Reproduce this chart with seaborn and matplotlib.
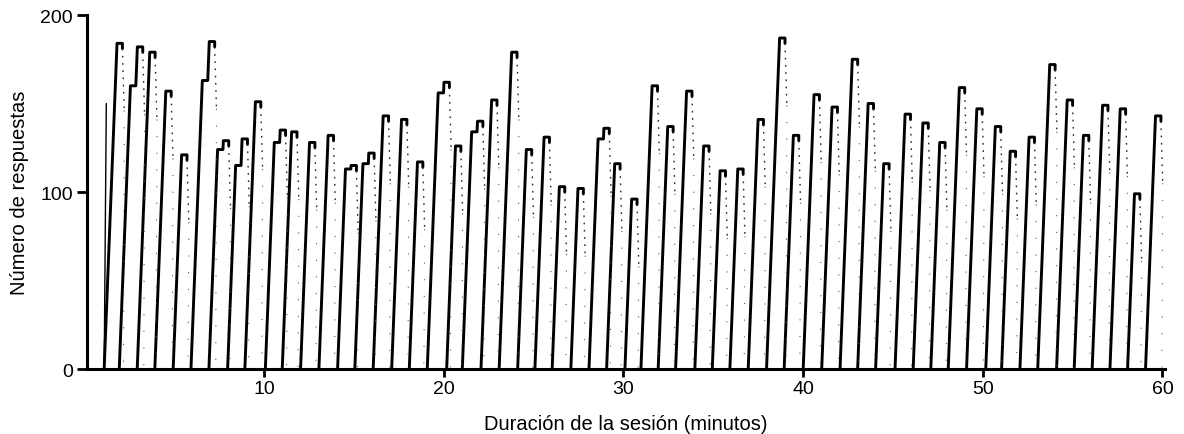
import numpy as np
import pandas as pd
import matplotlib
matplotlib.use('Agg')
import matplotlib.pyplot as plt
import seaborn as sns

# start of each run (minutes) and count reached before the pen resets
ramp_start = [1.11, 1.95, 2.95, 3.93, 4.95, 5.94, 6.94, 7.98, 8.94, 10.08,
              11.02, 12.04, 13.06, 14.10, 15.06, 16.08, 17.11, 18.09, 19.09, 20.17,
              21.04, 22.08, 23.09, 24.12, 25.08, 26.04, 27.08, 28.09, 29.07, 30.09,
              30.98, 31.94, 32.91, 33.98, 34.95, 35.93, 36.95, 37.97, 38.95, 40.01,
              41.04, 42.06, 43.04, 44.04, 45.12, 46.13, 47.11, 48.08, 49.10, 50.17,
              51.05, 52.07, 53.06, 54.11, 55.09, 56.09, 57.08, 58.06, 59.06]
peak = [184, 182, 179, 157, 121, 185, 129, 130, 151, 135,
        134, 128, 132, 115, 122, 143, 141, 117, 162, 126,
        140, 152, 179, 124, 131, 103, 102, 136, 116, 96,
        160, 137, 157, 126, 112, 113, 141, 187, 132, 155,
        148, 175, 150, 116, 144, 139, 128, 159, 147, 137,
        123, 131, 172, 152, 132, 149, 147, 99, 143]
# short pause part way up the run (0 = none)
step = [0, 160, 0, 0, 0, 163, 124, 115, 0, 128,
        0, 0, 0, 113, 116, 0, 0, 0, 156, 0,
        134, 0, 0, 0, 0, 0, 0, 130, 0, 0,
        0, 0, 0, 0, 0, 0, 0, 0, 0, 0,
        0, 0, 0, 0, 0, 0, 0, 0, 0, 0,
        0, 0, 0, 0, 0, 0, 0, 0, 0]
first_spike = 150

x_ticks = [10, 20, 30, 40, 50, 60]
y_ticks = [0, 100, 200]

rate = 257.0   # responses per minute while running
hold = 0.3

rows = []
resets = []
for i, (t0, p, s) in enumerate(zip(ramp_start, peak, step)):
    pts = [(t0, 0)]
    t = t0
    if s:
        t += s / rate
        pts.append((t, s))
        t += 0.3
        pts.append((t, s))
        t += (p - s) / rate
    else:
        t += p / rate
    pts.append((t, p))
    t += hold
    pts.append((t, p))
    pts.append((t, p - 3))
    for k, (x, y) in enumerate(pts):
        rows.append({'t': x, 'n': y, 'run': i, 'order': k})
    resets.append((t, p - 3))

df = pd.DataFrame(rows)

sns.set_style('ticks')
plt.rcParams['font.family'] = ['Liberation Sans', 'DejaVu Sans']

fig = plt.figure(figsize=(11.84, 4.35), dpi=100)
ax = fig.add_axes([0.0737, 0.1494, 0.9102, 0.8138])

sns.lineplot(data=df, x='t', y='n', units='run', estimator=None, sort=False,
             color='black', linewidth=2.1, ax=ax)

# thin first mark
ax.plot([ramp_start[0], ramp_start[0] + 0.12], [0, first_spike], color='black', lw=1.0)

# dotted pen resets
for (t, y) in resets:
    ax.plot([t, t + 0.1], [y, y - 35], color='0.15', lw=1.0, linestyle=(0, (1.2, 4)))
    ax.plot([t + 0.1, t + 0.06], [y - 35, 0], color='0.35', lw=0.8,
            linestyle=(0, (1, 14)))

ax.set_xlim(0.17, 60.14)
ax.set_ylim(0, 200)
ax.set_xticks(x_ticks)
ax.set_yticks(y_ticks)
ax.tick_params(axis='both', width=2, labelsize=14, colors='black')
ax.tick_params(axis='x', length=6, pad=2)
ax.tick_params(axis='y', length=7.5, pad=3)
for side in ['top', 'right']:
    ax.spines[side].set_visible(False)
for side in ['left', 'bottom']:
    ax.spines[side].set_linewidth(2.2)
    ax.spines[side].set_color('black')

ax.set_xlabel('Duración de la sesión (minutos)', fontsize=14.5, labelpad=12, color='black')
ax.set_ylabel('Número de respuestas', fontsize=14.5, labelpad=8, color='black')

fig.savefig('out.png', dpi=100)
